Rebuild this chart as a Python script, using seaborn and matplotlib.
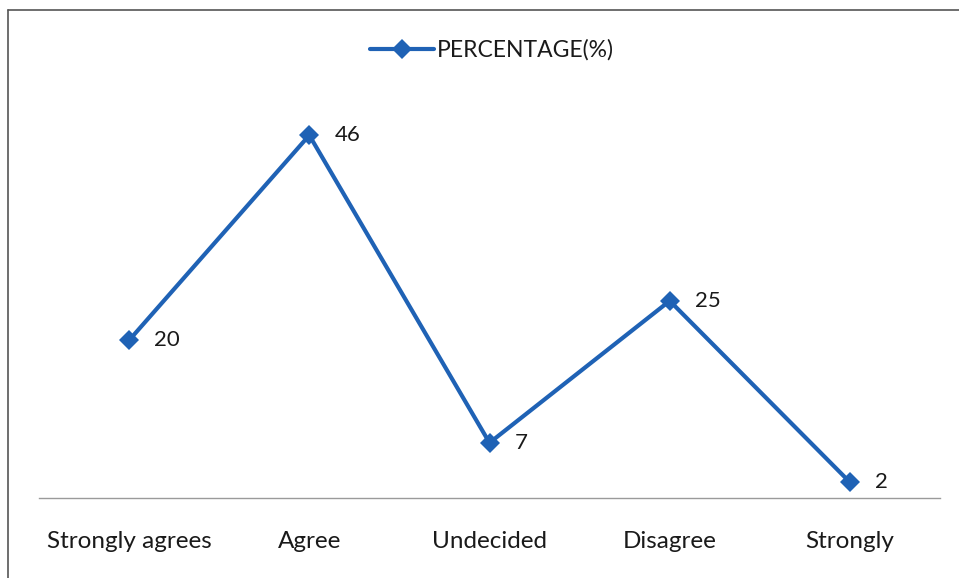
import matplotlib
matplotlib.use("Agg")
import matplotlib.pyplot as plt
from matplotlib.lines import Line2D
import seaborn as sns
import pandas as pd

categories = ["Strongly agrees", "Agree", "Undecided", "Disagree", "Strongly"]
percentages = [20, 46, 7, 25, 2]
series_name = "PERCENTAGE(%)"

sns.set_theme(style="white")
plt.rcParams["font.family"] = ["Lato", "DejaVu Sans"]

df = pd.DataFrame({"category": categories, "value": percentages})
blue = "#1F62B5"

fig = plt.figure(figsize=(9.59, 5.78), dpi=100)
ax = fig.add_axes([39 / 959, 1 - 498 / 578, (940 - 39) / 959, (498 - 103.7) / 578])

sns.lineplot(data=df, x="category", y="value", ax=ax, sort=False, color=blue,
             linewidth=3.0, marker="D", markersize=10, markeredgewidth=0,
             label=series_name)

for i, v in enumerate(percentages):
    ax.annotate(str(v), (i, v), xytext=(18, 0), textcoords="offset points",
                ha="left", va="center", fontsize=16, color="#1a1a1a")

ax.set_xlim(-0.5, 4.5)
ax.set_ylim(0, 50)
ax.set_xlabel("")
ax.set_ylabel("")
ax.set_yticks([])
ax.tick_params(axis="x", length=0, pad=24, labelsize=17.5, labelcolor="#1a1a1a")
for side in ["top", "right", "left"]:
    ax.spines[side].set_visible(False)
ax.spines["bottom"].set_color("#9a9a9a")
ax.spines["bottom"].set_linewidth(1.0)

leg = ax.legend(loc="center", bbox_to_anchor=(492 / 959, 1 - 50 / 578), bbox_transform=fig.transFigure,
                frameon=False, fontsize=16.5, handlelength=2.8, handletextpad=0.1)
for t in leg.get_texts():
    t.set_color("#1a1a1a")

# outer chart frame
fig.add_artist(Line2D([8 / 959, 8 / 959], [0, 1 - 10 / 578], transform=fig.transFigure,
                      color="#555555", linewidth=1.2))
fig.add_artist(Line2D([8 / 959, 1], [1 - 10 / 578, 1 - 10 / 578], transform=fig.transFigure,
                      color="#555555", linewidth=1.2))

fig.savefig("out.png", dpi=100)
